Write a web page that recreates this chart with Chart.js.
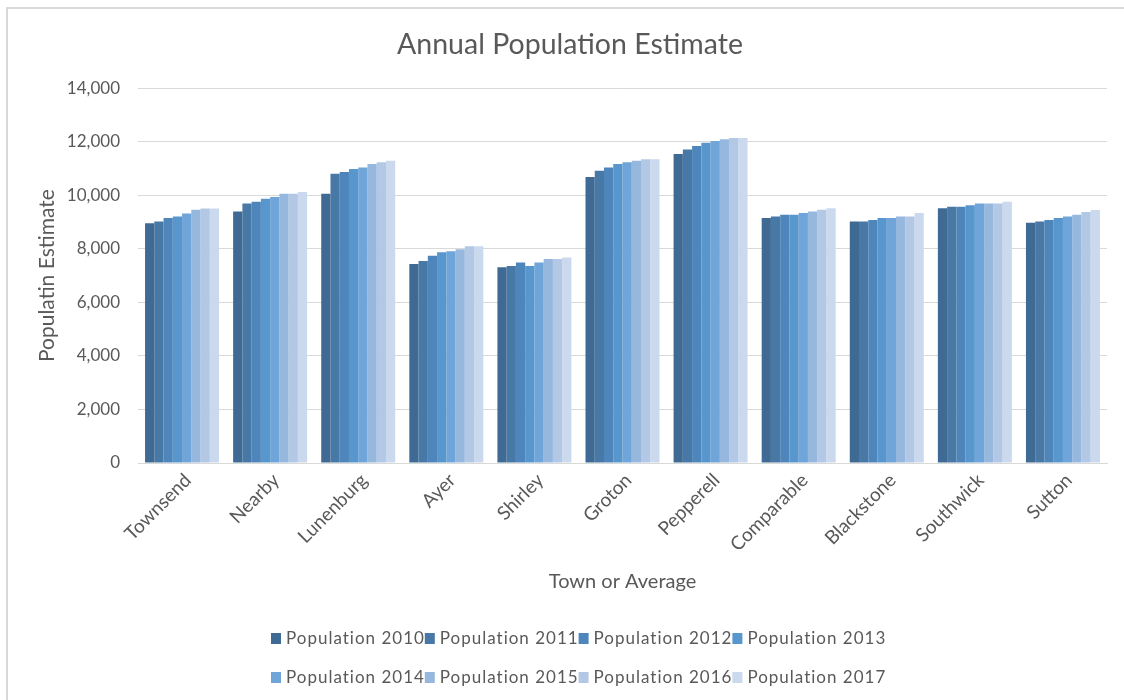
<!DOCTYPE html>
<html>
<head>
<meta charset="utf-8">
<script src="https://cdn.jsdelivr.net/npm/chart.js@4.4.1/dist/chart.umd.min.js"></script>
<style>
  html, body { margin: 0; padding: 0; background: #ffffff; }
  #wrap { position: relative; width: 1124px; height: 700px; overflow: hidden; }
  #frame { position: absolute; left: 6px; top: 7px; width: 2000px; height: 2000px;
           border-left: 2px solid #d9d9d9; border-top: 2px solid #d9d9d9; }
  canvas { position: absolute; left: 0; top: 0; }
</style>
</head>
<body>
<div id="wrap">
  <div id="frame"></div>
  <canvas id="c" width="1124" height="700"></canvas>
</div>
<script>
const categories = ['Townsend', 'Nearby', 'Lunenburg', 'Ayer', 'Shirley', 'Groton', 'Pepperell', 'Comparable', 'Blackstone', 'Southwick', 'Sutton'];
const seriesNames = ['Population 2010', 'Population 2011', 'Population 2012', 'Population 2013', 'Population 2014', 'Population 2015', 'Population 2016', 'Population 2017'];
const pop2010 = [8960, 9390, 10060, 7430, 7310, 10680, 11540, 9150, 9020, 9520, 8970];
const pop2011 = [9020, 9690, 10800, 7550, 7360, 10920, 11710, 9210, 9020, 9570, 9020];
const pop2012 = [9150, 9760, 10870, 7740, 7490, 11040, 11840, 9270, 9080, 9570, 9080];
const pop2013 = [9210, 9870, 10980, 7870, 7360, 11170, 11960, 9270, 9150, 9630, 9150];
const pop2014 = [9320, 9940, 11040, 7910, 7490, 11230, 12030, 9340, 9150, 9690, 9210];
const pop2015 = [9460, 10060, 11170, 7980, 7620, 11290, 12090, 9390, 9210, 9690, 9270];
const pop2016 = [9510, 10060, 11230, 8100, 7620, 11350, 12140, 9460, 9210, 9690, 9380];
const pop2017 = [9510, 10120, 11290, 8100, 7680, 11350, 12140, 9520, 9340, 9760, 9450];
const yTickValues = [0, 2000, 4000, 6000, 8000, 10000, 12000, 14000];

const seriesValues = [pop2010, pop2011, pop2012, pop2013, pop2014, pop2015, pop2016, pop2017];
const seriesColors = ['#3f6a94', '#4778a6', '#4e86bb', '#5896ce', '#6fa5d8', '#97b8de', '#b3c8e5', '#cbd9ee'];

const FONT = 'Lato, "Open Sans", sans-serif';
const TEXT = '#595959';

const legendPlugin = {
  id: 'customLegend',
  afterDraw(chart) {
    const ctx = chart.ctx;
    ctx.save();
    ctx.font = '17px ' + FONT;
    ctx.fillStyle = TEXT;
    ctx.textBaseline = 'middle';
    ctx.textAlign = 'left';
    try { ctx.letterSpacing = '1px'; } catch (e) {}
    const x0 = 271, dx = 153.8, rows = [638, 677];
    const items = chart.data.datasets.map((ds, i) => ({
      x: x0 + (i % 4) * dx, y: rows[Math.floor(i / 4)], label: ds.label, color: ds.backgroundColor
    }));
    items.forEach(it => ctx.fillText(it.label, it.x + 15, it.y + 1));
    items.forEach(it => { ctx.fillStyle = it.color; ctx.fillRect(it.x, it.y - 5, 10, 11); });
    ctx.restore();
  }
};

new Chart(document.getElementById('c'), {
  type: 'bar',
  data: {
    labels: categories,
    datasets: seriesNames.map((name, i) => ({
      label: name,
      data: seriesValues[i],
      backgroundColor: seriesColors[i],
      borderWidth: 0,
      categoryPercentage: 0.84,
      barPercentage: 1.0
    }))
  },
  options: {
    responsive: false,
    animation: false,
    devicePixelRatio: 1,
    layout: { padding: { left: 33, right: 17, top: 0, bottom: 97 } },
    plugins: {
      legend: { display: false },
      tooltip: { enabled: false },
      title: {
        display: true,
        text: 'Annual Population Estimate',
        color: TEXT,
        font: { family: FONT, size: 28.5, weight: 'normal' },
        padding: { top: 28, bottom: 26 }
      }
    },
    scales: {
      x: {
        grid: { display: false, drawTicks: false },
        border: { display: true, color: '#d9d9d9', width: 1 },
        ticks: {
          color: TEXT, font: { family: FONT, size: 19 },
          minRotation: 45, maxRotation: 45, autoSkip: false, padding: 6, labelOffset: 6
        },
        title: {
          display: true, text: 'Town or Average', color: TEXT,
          font: { family: FONT, size: 20 }, padding: { top: 0, bottom: 9 }
        },
        afterFit: (s) => { s.height = 140; }
      },
      y: {
        min: 0, max: 14000,
        grid: { color: '#d9d9d9', lineWidth: 1, drawTicks: false },
        border: { display: false },
        afterBuildTicks: (s) => { s.ticks = yTickValues.map(v => ({ value: v })); },
        ticks: {
          color: TEXT, font: { family: FONT, size: 17 }, padding: 18,
          callback: (v) => v.toLocaleString('en-US')
        },
        title: {
          display: true, text: 'Populatin Estimate', color: TEXT,
          font: { family: FONT, size: 21 }, padding: { top: 2, bottom: 0 }
        },
        afterFit: (s) => { s.width = 105; }
      }
    }
  },
  plugins: [legendPlugin]
});
</script>
</body>
</html>
